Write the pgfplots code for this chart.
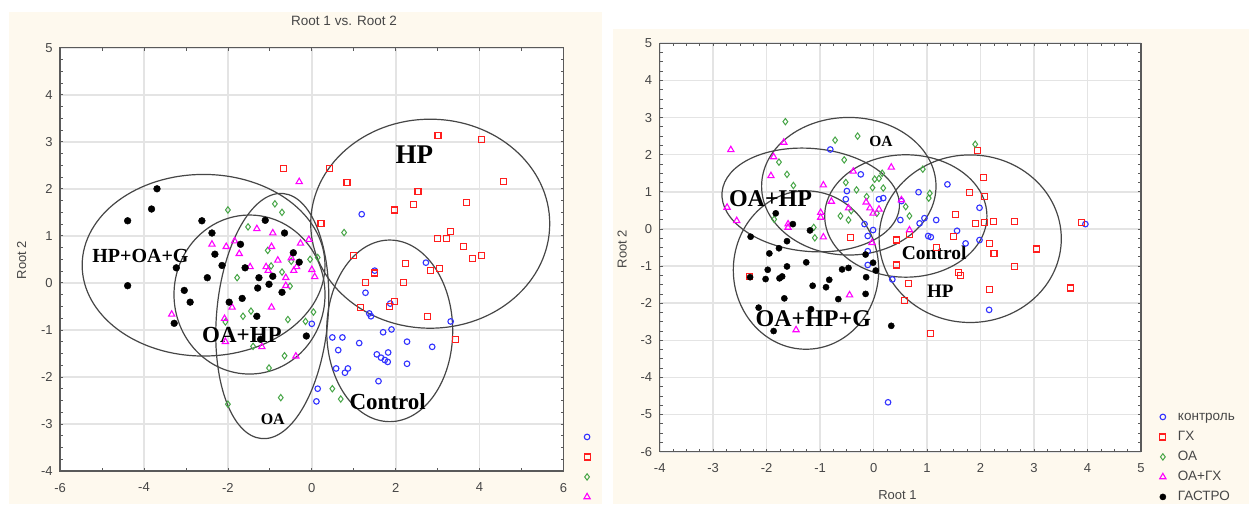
\documentclass[border=0pt]{standalone}
\usepackage{pgfplots}
\pgfplotsset{compat=1.18}
\usepackage{fontspec}
\setmainfont{Liberation Sans}
\newfontfamily\lserif{Liberation Serif}
\definecolor{cream}{RGB}{254,249,238}
\definecolor{tickgray}{RGB}{70,70,70}
\definecolor{framec}{RGB}{90,90,90}
\definecolor{gridc}{RGB}{228,228,228}
\definecolor{cblue}{RGB}{50,50,255}
\definecolor{cred}{RGB}{255,30,30}
\definecolor{cgreen}{RGB}{70,165,70}
\definecolor{cmag}{RGB}{255,0,255}
\definecolor{ellc}{RGB}{70,70,70}
\tikzset{ell/.style={draw=ellc, line width=1.2pt}}
% marks that carry their own colour
\pgfdeclareplotmark{mo}{\pgfsetstrokecolor{cblue}\pgfpathcircle{\pgfpointorigin}{\pgfplotmarksize}\pgfusepathqstroke}
\pgfdeclareplotmark{msq}{\pgfsetstrokecolor{cred}\pgfpathrectangle{\pgfqpoint{-\pgfplotmarksize}{-\pgfplotmarksize}}{\pgfqpoint{2\pgfplotmarksize}{2\pgfplotmarksize}}\pgfusepathqstroke}
\pgfdeclareplotmark{mdi}{\pgfsetstrokecolor{cgreen}\pgfpathmoveto{\pgfqpoint{0pt}{\pgfplotmarksize}}\pgfpathlineto{\pgfqpoint{.75\pgfplotmarksize}{0pt}}\pgfpathlineto{\pgfqpoint{0pt}{-\pgfplotmarksize}}\pgfpathlineto{\pgfqpoint{-.75\pgfplotmarksize}{0pt}}\pgfpathclose\pgfusepathqstroke}
\pgfdeclareplotmark{mtr}{\pgfsetstrokecolor{cmag}\pgfpathmoveto{\pgfqpointpolar{90}{\pgfplotmarksize}}\pgfpathlineto{\pgfqpointpolar{-30}{\pgfplotmarksize}}\pgfpathlineto{\pgfqpointpolar{210}{\pgfplotmarksize}}\pgfpathclose\pgfusepathqstroke}
\pgfdeclareplotmark{mdot}{\pgfsetstrokecolor{black}\pgfsetfillcolor{black}\pgfpathcircle{\pgfpointorigin}{\pgfplotmarksize}\pgfusepathqfillstroke}
\pgfplotsset{
 statstyle/.style={
  scale only axis,
  axis background/.style={fill=white},
  axis line style={draw=framec, line width=1.3pt},
  grid=major,
  major grid style={draw=gridc, line width=1.6pt},
  tick align=inside,
  major tick length=3pt, minor tick length=3pt,
  tick style={draw=framec, line width=0.8pt},
  tick label style={font=\fontsize{13}{13}\selectfont, text=tickgray},
  xticklabel style={yshift=-8.5pt},
  yticklabel style={xshift=-4pt},
  label style={font=\fontsize{13}{13}\selectfont, text=tickgray},
  legend cell align=left,
 },
 ctrl/.style={only marks, color=cblue, mark=mo, mark size=2.8pt, mark options={solid, line width=1.1pt}},
 gx/.style={only marks, color=cred, mark=msq, mark size=3pt, mark options={solid, line width=1.15pt}},
 oa/.style={only marks, color=cgreen, mark=mdi, mark size=3.2pt, mark options={solid, line width=1pt}},
 oagx/.style={only marks, color=cmag, mark=mtr, mark size=3.6pt, mark options={solid, line width=1.1pt}},
 gastro/.style={only marks, color=black, mark=mdot, mark size=3.1pt, mark options={solid, line width=0.4pt}},
}
\newcommand\lab[1]{\lserif\bfseries\fontsize{#1}{#1}\selectfont}
\begin{document}
\begin{tikzpicture}[x=1pt,y=1pt]
\useasboundingbox (0pt,0pt) rectangle (1249pt,504pt);
\fill[white] (0pt,0pt) rectangle (1249pt,504pt);
\fill[cream] (8.5pt,0pt) rectangle (601.5pt,492.3pt);
\fill[cream] (612.7pt,0pt) rectangle (1249pt,474.5pt);
% ---------------- left panel ----------------
\begin{axis}[statstyle,
  at={(60.1pt,33pt)}, anchor=south west, width=503.4pt, height=423.3pt,
  xmin=-6, xmax=6, ymin=-4, ymax=5,
  xtick={-6,-4,-2,0,2,4,6}, xticklabels={-6,-4,-2,0,2,4,6},
  ytick={-4,-3,-2,-1,0,1,2,3,4,5}, yticklabels={-4,-3,-2,-1,0,1,2,3,4,5},
  minor x tick num=1, minor y tick num=3,
  title={Root 1 vs. Root 2},
  title style={at={(axis description cs:0.564,1.049)}, anchor=center, font=\fontsize{13.5}{13.5}\selectfont, text=tickgray},
  ylabel={Root 2},
  ylabel style={at={(axis description cs:-0.0763,0.498)}, anchor=center},
  legend style={draw=none, fill=none, inner sep=0pt, at={(axis description cs:1.0397,0.0987)}, anchor=north west,
    nodes={inner sep=1pt, text height=10pt, text depth=3pt}, row sep=5pt},
  gastro/.append style={mark size=3.4pt},
]
\addplot[ctrl] coordinates {(1.19,1.46)(1.50,0.26)(1.28,-0.21)(1.37,-0.65)(1.41,-0.71)(1.87,-0.44)(2.72,0.43)(3.31,-0.82)(0.00,-0.87)(0.49,-1.16)(0.73,-1.16)(0.63,-1.43)(1.13,-1.28)(1.70,-1.05)(1.90,-0.99)(2.27,-1.25)(2.87,-1.36)(1.55,-1.52)(1.65,-1.59)(1.74,-1.64)(1.81,-1.68)(1.82,-1.48)(2.27,-1.72)(0.58,-1.82)(0.86,-1.82)(0.79,-1.91)(1.59,-2.09)(0.14,-2.25)(0.11,-2.52)};
\addlegendentry{\phantom{A}}
\addplot[gx] coordinates {(-0.68,2.43)(0.42,2.43)(0.84,2.13)(3.01,3.14)(4.04,3.05)(4.56,2.15)(2.53,1.94)(2.43,1.67)(1.98,1.55)(3.69,1.70)(0.22,1.26)(3.31,1.09)(3.00,0.94)(3.22,0.94)(3.62,0.78)(3.83,0.52)(4.04,0.58)(1.00,0.58)(2.23,0.42)(1.50,0.21)(2.83,0.26)(3.05,0.30)(1.28,0.01)(2.19,0.01)(1.16,-0.52)(1.98,-0.40)(1.85,-0.50)(2.75,-0.72)(3.43,-1.20)};
\addlegendentry{\phantom{A}}
\addplot[oa] coordinates {(-2.00,1.55)(-0.88,1.68)(-0.71,1.50)(-1.52,1.19)(0.77,1.07)(-1.05,0.69)(-0.04,0.50)(0.14,0.54)(-0.97,0.36)(-1.78,0.11)(-0.71,0.23)(-0.52,-0.07)(-1.45,-0.60)(-1.64,-0.71)(-0.57,-0.78)(-0.15,-0.82)(0.04,-0.62)(-2.06,-0.83)(-1.40,-1.35)(-0.65,-1.55)(-1.02,-1.81)(-0.74,-2.44)(-2.00,-2.58)(0.49,-2.25)(0.69,-2.47)(-0.49,0.46)};
\addlegendentry{\phantom{A}}
\addplot[oagx] coordinates {(-0.30,2.15)(-2.38,0.82)(-2.04,0.77)(-1.84,0.89)(-1.73,0.62)(-1.31,1.15)(-0.93,1.06)(-0.96,0.77)(-0.27,0.84)(-0.07,0.92)(-0.49,0.53)(-1.47,0.34)(-1.09,0.34)(-0.43,0.26)(0.00,0.28)(0.07,0.13)(-0.62,0.11)(-0.62,-0.06)(-1.04,0.26)(-0.96,-0.52)(-1.90,-0.52)(-2.08,-0.76)(-3.34,-0.67)(-2.06,-1.25)(-1.19,-1.36)(-0.38,-1.56)(-0.36,0.34)(-0.81,0.48)};
\addlegendentry{\phantom{A}}
\addplot[gastro] coordinates {(-3.69,2.00)(-3.82,1.57)(-4.39,1.32)(-2.62,1.32)(-1.11,1.33)(-2.38,1.06)(-0.65,1.06)(-1.70,0.82)(-2.31,0.61)(-0.44,0.64)(-0.30,0.44)(-3.23,0.32)(-2.14,0.37)(-1.59,0.32)(-2.49,0.11)(-1.26,0.11)(-0.93,0.14)(-1.02,-0.03)(-1.29,-0.11)(-4.39,-0.06)(-3.04,-0.16)(-0.71,-0.20)(-2.90,-0.41)(-1.97,-0.41)(-1.66,-0.33)(-1.31,-0.71)(-3.28,-0.86)(-1.22,-1.20)(-0.13,-1.13)};
\addlegendentry{\phantom{A}}
% ellipses
\draw[ell] (axis cs:2.823,1.258) ellipse [x radius=119.5pt, y radius=104.5pt];
\draw[ell] (axis cs:-2.58,0.375) ellipse [x radius=121.4pt, y radius=90.8pt];
\draw[ell] (axis cs:-1.485,-0.248) ellipse [x radius=75.5pt, y radius=79.5pt];
\draw[ell, rotate around={-5:(axis cs:-0.942,-0.705)}] (axis cs:-0.942,-0.705) ellipse [x radius=55.7pt, y radius=123pt];
\draw[ell] (axis cs:1.857,-1.02) ellipse [x radius=63pt, y radius=90.8pt];
\node[font=\lab{27}] at (axis cs:2.446,2.72) {HP};
\node[font=\lab{20}] at (axis cs:-4.086,0.571) {HP+OA+G};
\node[font=\lab{23}] at (axis cs:-1.664,-1.11) {OA+HP};
\node[font=\lab{16}] at (axis cs:-0.93,-2.90) {OA};
\node[font=\lab{23}] at (axis cs:1.81,-2.53) {Control};
\end{axis}
% ---------------- right panel ----------------
\begin{axis}[statstyle,
  at={(659.7pt,52.3pt)}, anchor=south west, width=481.3pt, height=408.4pt,
  xmin=-4, xmax=5, ymin=-6, ymax=5,
  xtick={-4,-3,-2,-1,0,1,2,3,4,5}, xticklabels={-4,-3,-2,-1,0,1,2,3,4,5},
  ytick={-6,-5,-4,-3,-2,-1,0,1,2,3,4,5}, yticklabels={-6,-5,-4,-3,-2,-1,0,1,2,3,4,5},
  minor x tick num=3, minor y tick num=3,
  xlabel={Root 1}, ylabel={Root 2},
  xlabel style={at={(axis description cs:0.494,-0.106)}, anchor=center},
  ylabel style={at={(axis description cs:-0.078,0.496)}, anchor=center},
  legend style={draw=none, fill=none, inner sep=0pt, at={(axis description cs:1.0385,0.104)}, anchor=north west,
    nodes={inner sep=1pt, text height=10pt, text depth=3pt}, row sep=5pt,
    font=\fontsize{13.5}{13.5}\selectfont, text=tickgray,
    /tikz/every odd column/.append style={column sep=11pt}},
  xticklabel style={yshift=0.5pt},
]
\addplot[ctrl] coordinates {(-0.81,2.14)(-0.24,1.47)(-0.50,1.02)(-0.52,0.80)(0.10,0.80)(0.18,0.83)(0.52,0.75)(0.84,0.99)(1.38,1.20)(1.98,0.57)(3.96,0.13)(-0.17,0.13)(-0.01,-0.03)(-0.11,-0.19)(0.50,0.24)(0.95,0.29)(1.17,0.24)(0.86,0.15)(1.02,-0.19)(1.07,-0.22)(1.56,-0.05)(1.72,-0.39)(1.98,-0.30)(-0.11,-0.60)(-0.11,-0.97)(0.35,-1.36)(2.16,-2.18)(0.27,-4.67)};
\addlegendentry{контроль}
\addplot[gx] coordinates {(1.94,2.12)(2.05,1.38)(2.08,0.87)(1.79,0.98)(1.53,0.39)(1.90,0.15)(2.07,0.18)(2.24,0.21)(2.64,0.21)(3.89,0.18)(1.49,-0.21)(2.17,-0.39)(2.25,-0.66)(3.05,-0.54)(2.64,-1.01)(1.59,-1.17)(1.62,-1.25)(2.17,-1.62)(3.68,-1.59)(1.07,-2.82)(0.42,-0.30)(0.67,-0.16)(-0.43,-0.24)(0.42,-0.97)(0.65,-1.46)(0.58,-1.93)(-2.32,-1.28)(1.17,-0.51)};
\addlegendentry{ГХ}
\addplot[oa] coordinates {(-1.65,2.89)(-0.72,2.39)(-0.30,2.50)(-0.55,1.86)(-1.77,1.80)(-1.62,1.47)(-1.50,1.17)(-0.52,1.25)(-0.32,1.05)(-0.02,1.11)(0.02,1.34)(0.10,1.36)(0.16,1.50)(0.18,1.10)(-0.13,0.87)(-0.42,0.49)(-0.62,0.35)(-0.47,0.24)(0.06,0.42)(0.60,0.60)(0.67,0.35)(0.92,1.61)(1.05,0.96)(1.03,0.83)(1.90,2.28)(-1.86,0.26)(-1.12,0.04)(-1.10,-0.24)};
\addlegendentry{ОА}
\addplot[oagx] coordinates {(-2.67,2.13)(-1.68,2.33)(-1.87,1.94)(-1.92,1.43)(-0.94,1.18)(-0.79,0.74)(-0.38,1.55)(0.33,1.66)(0.52,0.78)(-0.14,0.72)(-0.07,0.56)(-0.01,0.42)(0.10,0.53)(-0.47,0.56)(-0.99,0.44)(-0.99,0.31)(-2.74,0.58)(-2.56,0.22)(-1.60,0.04)(-1.60,0.13)(-0.94,-0.22)(-0.03,-0.37)(0.67,-0.03)(-0.45,-1.78)(-1.45,-2.72)};
\addlegendentry{ОА+ГХ}
\addplot[gastro] coordinates {(-1.83,0.42)(-1.51,0.13)(-1.19,-0.04)(-2.30,-0.21)(-1.62,-0.33)(-1.77,-0.52)(-1.95,-0.66)(-1.26,-0.90)(-1.62,-1.01)(-1.98,-1.10)(-0.15,-0.69)(-0.01,-0.91)(0.04,-1.12)(-0.59,-1.09)(-0.47,-1.05)(-2.31,-1.30)(-2.02,-1.35)(-1.76,-1.33)(-1.71,-1.28)(-0.83,-1.37)(-1.14,-1.53)(-0.89,-1.57)(-0.15,-1.75)(-1.67,-1.87)(-0.66,-1.89)(-0.14,-1.30)(-2.15,-2.12)(-1.17,-2.16)(-1.87,-2.75)(0.33,-2.61)};
\addlegendentry{ГАСТРО}
\draw[ell] (axis cs:-0.464,1.15) ellipse [x radius=87.2pt, y radius=68.8pt];
\draw[ell, rotate around={-5:(axis cs:-1.176,0.78)}] (axis cs:-1.176,0.78) ellipse [x radius=89pt, y radius=51.5pt];
\draw[ell] (axis cs:0.602,0.349) ellipse [x radius=81.1pt, y radius=61.2pt];
\draw[ell] (axis cs:1.806,-0.263) ellipse [x radius=91.1pt, y radius=83.8pt];
\draw[ell] (axis cs:-1.264,-1.107) ellipse [x radius=72.7pt, y radius=79.2pt];
\node[font=\lab{15.5}] at (axis cs:0.138,2.35) {OA};
\node[font=\lab{24}] at (axis cs:-1.928,0.81) {OA+HP};
\node[font=\lab{19.5}] at (axis cs:1.133,-0.656) {Control};
\node[font=\lab{19}] at (axis cs:1.247,-1.69) {HP};
\node[font=\lab{24}] at (axis cs:-1.128,-2.43) {OA+HP+G};
\end{axis}
\end{tikzpicture}
\end{document}
